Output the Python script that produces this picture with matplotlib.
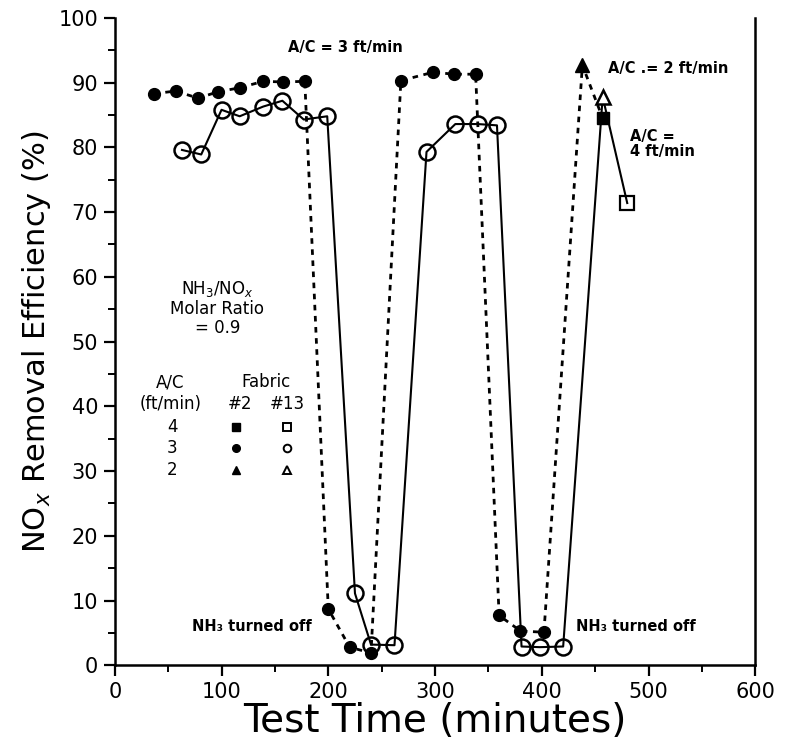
import matplotlib
matplotlib.use("Agg")
import matplotlib.pyplot as plt
from matplotlib.ticker import MultipleLocator

# ---- data ----
# Fabric #2, A/C = 3 ft/min (filled circles)
f2_ac3_time = [37, 57, 78, 97, 117, 139, 158, 178, 200, 220, 240, 268, 298, 318, 338, 360, 380, 402]
f2_ac3_eff = [88.3, 88.7, 87.6, 88.6, 89.2, 90.2, 90.1, 90.2, 8.7, 2.8, 1.9, 90.3, 91.6, 91.3, 91.3, 7.7, 5.3, 5.1]
# Fabric #2, A/C = 2 ft/min (filled triangle)
f2_ac2_time = [438]
f2_ac2_eff = [92.7]
# Fabric #2, A/C = 4 ft/min (filled square)
f2_ac4_time = [457]
f2_ac4_eff = [84.5]

# Fabric #13, A/C = 3 ft/min (open circles)
f13_ac3_time = [63, 81, 100, 117, 139, 157, 177, 199, 225, 240, 262, 292, 319, 340, 358, 381, 398, 420]
f13_ac3_eff = [79.6, 78.9, 85.8, 84.8, 86.3, 87.2, 84.3, 84.8, 11.1, 3.2, 3.1, 79.3, 83.6, 83.6, 83.4, 2.9, 2.8, 2.9]
# Fabric #13, A/C = 2 ft/min (open triangle)
f13_ac2_time = [457]
f13_ac2_eff = [87.8]
# Fabric #13, A/C = 4 ft/min (open square)
f13_ac4_time = [480]
f13_ac4_eff = [71.4]

legend_rows = ["4", "3", "2"]
legend_markers = ["s", "o", "^"]

plt.rcParams['font.family'] = ['DejaVu Sans']

fig = plt.figure(figsize=(7.86, 7.45), dpi=100)
ax = fig.add_axes([0.146, 0.107, 0.815, 0.869])

# connecting lines
ax.plot(f2_ac3_time + f2_ac2_time + f2_ac4_time,
        f2_ac3_eff + f2_ac2_eff + f2_ac4_eff,
        color='black', lw=2.0, linestyle=(0, (2, 2)), zorder=2)
ax.plot(f13_ac3_time + f13_ac2_time + f13_ac4_time,
        f13_ac3_eff + f13_ac2_eff + f13_ac4_eff,
        color='black', lw=1.5, linestyle='-', zorder=2)

# markers
ax.plot(f2_ac3_time, f2_ac3_eff, 'o', color='black', ms=8.5, ls='none', zorder=4)
ax.plot(f2_ac2_time, f2_ac2_eff, '^', color='black', ms=10, ls='none', zorder=4)
ax.plot(f2_ac4_time, f2_ac4_eff, 's', color='black', ms=9, ls='none', zorder=4)
ax.plot(f13_ac3_time, f13_ac3_eff, 'o', mfc='none', mec='black', mew=1.8, ms=11.5, ls='none', zorder=3)
ax.plot(f13_ac2_time, f13_ac2_eff, '^', mfc='white', mec='black', mew=1.8, ms=10, ls='none', zorder=3)
ax.plot(f13_ac4_time, f13_ac4_eff, 's', mfc='none', mec='black', mew=1.6, ms=10, ls='none', zorder=3)

ax.set_xlim(0, 600)
ax.set_ylim(0, 100)
ax.xaxis.set_major_locator(MultipleLocator(100))
ax.xaxis.set_minor_locator(MultipleLocator(50))
ax.yaxis.set_major_locator(MultipleLocator(10))
ax.yaxis.set_minor_locator(MultipleLocator(5))
ax.tick_params(which='major', direction='out', length=8, width=1.6, labelsize=15, pad=4)
ax.tick_params(which='minor', direction='out', length=5, width=1.4)

for s in ['left', 'bottom', 'right']:
    ax.spines[s].set_linewidth(1.8)
ax.spines['top'].set_visible(False)

ax.set_xlabel('Test Time (minutes)', fontsize=28, labelpad=0)
ax.set_ylabel('NO$_x$ Removal Efficiency (%)', fontsize=22, labelpad=4)

# annotations
bold = dict(fontsize=10.5, fontweight='bold', color='black')
ax.text(216, 95.5, 'A/C = 3 ft/min', ha='center', va='center', **bold)
ax.text(462, 92.2, 'A/C .= 2 ft/min', ha='left', va='center', **bold)
ax.text(483, 80.5, 'A/C =\n4 ft/min', ha='left', va='center', linespacing=0.95, **bold)
ax.text(128, 6.0, 'NH₃ turned off', ha='center', va='center', **bold)
ax.text(488, 6.0, 'NH₃ turned off', ha='center', va='center', **bold)

ax.text(96, 55.2, 'NH$_3$/NO$_x$\nMolar Ratio\n= 0.9', ha='center', va='center',
        fontsize=12, linespacing=1.05)

# legend table
ax.text(52, 43.7, 'A/C', ha='center', va='center', fontsize=12)
ax.text(52, 40.3, '(ft/min)', ha='center', va='center', fontsize=12)
ax.text(142, 43.7, 'Fabric', ha='center', va='center', fontsize=12)
ax.text(117, 40.3, '#2', ha='center', va='center', fontsize=12)
ax.text(162, 40.3, '#13', ha='center', va='center', fontsize=12)
row_y = [36.8, 33.5, 30.1]
for lab, mk, yy in zip(legend_rows, legend_markers, row_y):
    ax.text(54, yy, lab, ha='center', va='center', fontsize=12)
    ax.plot([114], [yy], mk, color='black', ms=5.5, ls='none')
    ax.plot([161], [yy], mk, mfc='none', mec='black', mew=1.4, ms=5.5, ls='none')

fig.savefig('out.png', dpi=100)
